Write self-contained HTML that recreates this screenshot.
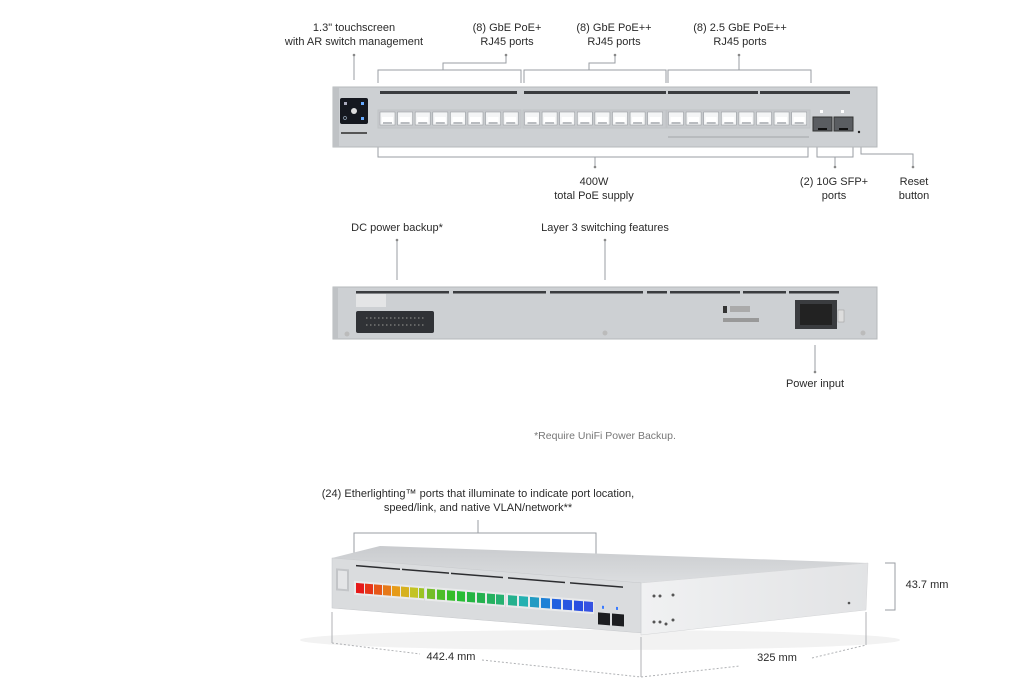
<!DOCTYPE html>
<html><head><meta charset="utf-8"><style>
html,body{margin:0;padding:0;background:#fff;}
body{width:1013px;height:695px;overflow:hidden;position:relative;font-family:"Liberation Sans",sans-serif;}
.t{position:absolute;font-size:11px;color:#2a2a2a;text-align:center;line-height:14px;white-space:nowrap;transform:translateX(-50%);}
</style></head><body>
<svg width="1013" height="695" viewBox="0 0 1013 695" style="position:absolute;left:0;top:0">
<defs>
<g id="p"><rect x="0" y="0" width="15" height="13" fill="#f4f5f6" stroke="#9a9ea3" stroke-width="0.6"/><rect x="2" y="5" width="11" height="6" fill="#fff"/><rect x="3" y="10" width="9" height="2" fill="#b9bcc0"/></g>
<linearGradient id="top" x1="0" y1="0" x2="0" y2="1"><stop offset="0" stop-color="#c9cbce"/><stop offset="1" stop-color="#dcdee0"/></linearGradient>
<linearGradient id="side" x1="0" y1="0" x2="1" y2="0"><stop offset="0" stop-color="#f0f1f2"/><stop offset="1" stop-color="#e2e3e5"/></linearGradient>
</defs>
<g stroke="#9a9ea3" stroke-width="1" fill="none">
<!-- top annotations -->
<path d="M354 55V80"/>
<path d="M378 83V70H521V83M443 70V63H506V55"/>
<path d="M524 83V70H666V83M589 70V63H615V55"/>
<path d="M668 83V70H811V83M739 70V55"/>
<path d="M378 147V157H808V147M595 157V167"/>
<path d="M817 147V157H853V147M835 157V167"/>
<path d="M861 147V154H913V167"/>
<path d="M397 240V280M605 240V280M815 345V372"/>
<path d="M354 565V533H596V602M478 533V520"/>
<path d="M885 563H895V610H885"/>
</g>
<g fill="#888"><circle cx="354" cy="55" r="1.3"/><circle cx="506" cy="55" r="1.3"/><circle cx="615" cy="55" r="1.3"/><circle cx="739" cy="55" r="1.3"/><circle cx="595" cy="167" r="1.3"/><circle cx="835" cy="167" r="1.3"/><circle cx="913" cy="167" r="1.3"/><circle cx="397" cy="240" r="1.3"/><circle cx="605" cy="240" r="1.3"/><circle cx="815" cy="372" r="1.3"/></g>

<!-- front panel -->
<rect x="333" y="87" width="544" height="60" fill="#cdd0d3" stroke="#b5b8bb"/>
<rect x="333" y="87" width="6" height="60" fill="#bfc2c5"/>
<g fill="#3a3c3f"><rect x="380" y="91" width="137" height="3"/><rect x="474" y="91" width="0" height="3"/><rect x="524" y="91" width="142" height="3"/><rect x="569" y="91" width="0" height="3"/><rect x="668" y="91" width="90" height="3"/><rect x="760" y="91" width="90" height="3"/></g>
<g fill="#c7cacd" stroke="#c0c3c6"><rect x="378" y="110" width="143" height="18"/><rect x="523" y="110" width="143" height="18"/><rect x="667" y="110" width="143" height="18"/></g>
<g>
<use href="#p" x="380" y="112"/><use href="#p" x="397.6" y="112"/><use href="#p" x="415.2" y="112"/><use href="#p" x="432.8" y="112"/><use href="#p" x="450.4" y="112"/><use href="#p" x="468" y="112"/><use href="#p" x="485.6" y="112"/><use href="#p" x="503.2" y="112"/>
<use href="#p" x="524.5" y="112"/><use href="#p" x="542.1" y="112"/><use href="#p" x="559.7" y="112"/><use href="#p" x="577.3" y="112"/><use href="#p" x="594.9" y="112"/><use href="#p" x="612.5" y="112"/><use href="#p" x="630.1" y="112"/><use href="#p" x="647.7" y="112"/>
<use href="#p" x="668.5" y="112"/><use href="#p" x="686.1" y="112"/><use href="#p" x="703.7" y="112"/><use href="#p" x="721.3" y="112"/><use href="#p" x="738.9" y="112"/><use href="#p" x="756.5" y="112"/><use href="#p" x="774.1" y="112"/><use href="#p" x="791.7" y="112"/>
</g>
<rect x="668" y="136" width="141" height="2" fill="#b8bbbe"/>
<rect x="813" y="117" width="19" height="14" fill="#5a5d61" stroke="#333"/><rect x="834" y="117" width="19" height="14" fill="#5a5d61" stroke="#333"/>
<rect x="818" y="128" width="9" height="2" fill="#111"/><rect x="839" y="128" width="9" height="2" fill="#111"/>
<rect x="820" y="110" width="3" height="3" fill="#fff"/><rect x="841" y="110" width="3" height="3" fill="#fff"/>
<circle cx="859" cy="132" r="1.2" fill="#222"/>
<rect x="340" y="98" width="28" height="26" rx="2" fill="#15181f"/>
<circle cx="354" cy="111" r="3" fill="#ddd"/><rect x="344" y="102" width="3" height="3" fill="#aab"/><rect x="361" y="102" width="3" height="3" fill="#6af"/><rect x="361" y="117" width="3" height="3" fill="#6af"/><circle cx="345" cy="118" r="1.5" fill="none" stroke="#9ab" stroke-width=".7"/>
<rect x="341" y="132" width="26" height="2" fill="#555"/>

<!-- rear panel -->
<rect x="333" y="287" width="544" height="52" fill="#cdd0d3" stroke="#b5b8bb"/>
<rect x="333" y="287" width="5" height="52" fill="#bfc2c5"/>
<g fill="#3a3c3f"><rect x="356" y="291" width="93" height="2.5"/><rect x="453" y="291" width="93" height="2.5"/><rect x="550" y="291" width="93" height="2.5"/><rect x="647" y="291" width="20" height="2.5"/><rect x="670" y="291" width="70" height="2.5"/><rect x="743" y="291" width="43" height="2.5"/><rect x="789" y="291" width="50" height="2.5"/></g>
<rect x="356" y="294" width="30" height="13" fill="#e4e5e6"/>
<rect x="356" y="311" width="78" height="22" rx="2" fill="#303236"/>
<g stroke="#777" stroke-width="1.5" stroke-dasharray="1.5 2.5"><path d="M366 318H426M366 325H426"/></g>
<rect x="795" y="300" width="42" height="29" fill="#3a3c3f"/><rect x="800" y="304" width="32" height="21" fill="#222"/>
<rect x="838" y="310" width="6" height="12" fill="#ddd" stroke="#999" stroke-width=".5"/>
<circle cx="347" cy="334" r="2.5" fill="#bbb"/><circle cx="605" cy="333" r="2.5" fill="#bbb"/><circle cx="863" cy="333" r="2.5" fill="#bbb"/>
<rect x="723" y="306" width="4" height="7" fill="#333"/><rect x="730" y="306" width="20" height="6" fill="#aaa"/><rect x="723" y="318" width="36" height="4" fill="#999"/>

<!-- 3D device -->
<ellipse cx="600" cy="640" rx="300" ry="10" fill="#f2f2f2"/>
<polygon points="332,558 380,546 868,563 641,583" fill="url(#top)"/>
<polygon points="641,583 868,563 866,610 641,635" fill="url(#side)" stroke="#d4d5d7" stroke-width=".5"/>
<g transform="translate(332,558) skewY(4.6)">
<rect x="0" y="0" width="309" height="50" fill="#dadcde" stroke="#c6c8cb" stroke-width=".5"/>
<g fill="#2c2d30"><rect x="24" y="5" width="44" height="1.5"/><rect x="70" y="5" width="47" height="1.5"/><rect x="119" y="5" width="52" height="1.5"/><rect x="176" y="5" width="57" height="1.5"/><rect x="238" y="5" width="53" height="1.5"/></g>
<rect x="4" y="10" width="13" height="22" fill="#c3c5c8"/><rect x="6" y="12" width="9" height="18" fill="#e4e5e7"/>
<rect x="22" y="21" width="70" height="14" fill="#e9eaeb"/><rect x="93" y="21" width="80" height="14" fill="#e9eaeb"/><rect x="174" y="21" width="88" height="14" fill="#e9eaeb"/>
<g>
<rect x="24" y="23" width="8" height="10" fill="hsl(0,80%,50%)"/><rect x="33" y="23" width="8" height="10" fill="hsl(8,80%,50%)"/><rect x="42" y="23" width="8" height="10" fill="hsl(18,80%,50%)"/><rect x="51" y="23" width="8" height="10" fill="hsl(28,80%,50%)"/><rect x="60" y="23" width="8" height="10" fill="hsl(38,80%,50%)"/><rect x="69" y="23" width="8" height="10" fill="hsl(48,75%,48%)"/><rect x="78" y="23" width="8" height="10" fill="hsl(60,70%,45%)"/><rect x="87" y="23" width="5" height="10" fill="hsl(75,70%,45%)"/>
<rect x="95" y="23" width="8" height="10" fill="hsl(90,65%,45%)"/><rect x="105" y="23" width="8" height="10" fill="hsl(105,65%,45%)"/><rect x="115" y="23" width="8" height="10" fill="hsl(115,65%,45%)"/><rect x="125" y="23" width="8" height="10" fill="hsl(125,65%,45%)"/><rect x="135" y="23" width="8" height="10" fill="hsl(132,65%,43%)"/><rect x="145" y="23" width="8" height="10" fill="hsl(138,65%,42%)"/><rect x="155" y="23" width="8" height="10" fill="hsl(145,65%,42%)"/><rect x="164" y="23" width="8" height="10" fill="hsl(152,65%,42%)"/>
<rect x="176" y="23" width="9" height="10" fill="hsl(165,65%,42%)"/><rect x="187" y="23" width="9" height="10" fill="hsl(180,65%,42%)"/><rect x="198" y="23" width="9" height="10" fill="hsl(195,70%,45%)"/><rect x="209" y="23" width="9" height="10" fill="hsl(208,75%,48%)"/><rect x="220" y="23" width="9" height="10" fill="hsl(220,75%,50%)"/><rect x="231" y="23" width="9" height="10" fill="hsl(225,75%,52%)"/><rect x="242" y="23" width="9" height="10" fill="hsl(228,75%,52%)"/><rect x="252" y="23" width="9" height="10" fill="hsl(230,75%,55%)"/>
</g>
<rect x="266" y="33" width="12" height="12" fill="#1c1d20"/><rect x="280" y="33" width="12" height="12" fill="#1c1d20"/>
<rect x="270" y="26" width="2" height="3" fill="#3a7bff"/><rect x="284" y="26" width="2" height="3" fill="#3a7bff"/>
</g>
<g fill="#555"><circle cx="654" cy="596" r="1.5"/><circle cx="660" cy="596" r="1.5"/><circle cx="673" cy="595" r="1.5"/><circle cx="654" cy="622" r="1.5"/><circle cx="660" cy="622" r="1.5"/><circle cx="666" cy="624" r="1.5"/><circle cx="673" cy="620" r="1.5"/><circle cx="849" cy="603" r="1.3"/></g>
<!-- dimensions -->
<g stroke="#b0b2b5" stroke-width="1" fill="none">
<path d="M332 612V643M641 637V677M866 612V645"/>
<path d="M332 643L420 654M482 660L641 677L740 666M812 658L866 645" stroke-dasharray="2 2"/>
</g>
</svg>
<div class="t" style="left:354px;top:21px">1.3" touchscreen<br>with AR switch management</div>
<div class="t" style="left:507px;top:21px">(8) GbE PoE+<br>RJ45 ports</div>
<div class="t" style="left:614px;top:21px">(8) GbE PoE++<br>RJ45 ports</div>
<div class="t" style="left:740px;top:21px">(8) 2.5 GbE PoE++<br>RJ45 ports</div>
<div class="t" style="left:594px;top:175px">400W<br>total PoE supply</div>
<div class="t" style="left:834px;top:175px">(2) 10G SFP+<br>ports</div>
<div class="t" style="left:914px;top:175px">Reset<br>button</div>
<div class="t" style="left:397px;top:221px">DC power backup*</div>
<div class="t" style="left:605px;top:221px">Layer 3 switching features</div>
<div class="t" style="left:815px;top:377px">Power input</div>
<div class="t" style="left:605px;top:429px;color:#777;font-size:10.5px">*Require UniFi Power Backup.</div>
<div class="t" style="left:478px;top:487px">(24) Etherlighting™ ports that illuminate to indicate port location,<br>speed/link, and native VLAN/network**</div>
<div class="t" style="left:927px;top:578px">43.7 mm</div>
<div class="t" style="left:451px;top:650px">442.4 mm</div>
<div class="t" style="left:777px;top:651px">325 mm</div>
</body></html>
